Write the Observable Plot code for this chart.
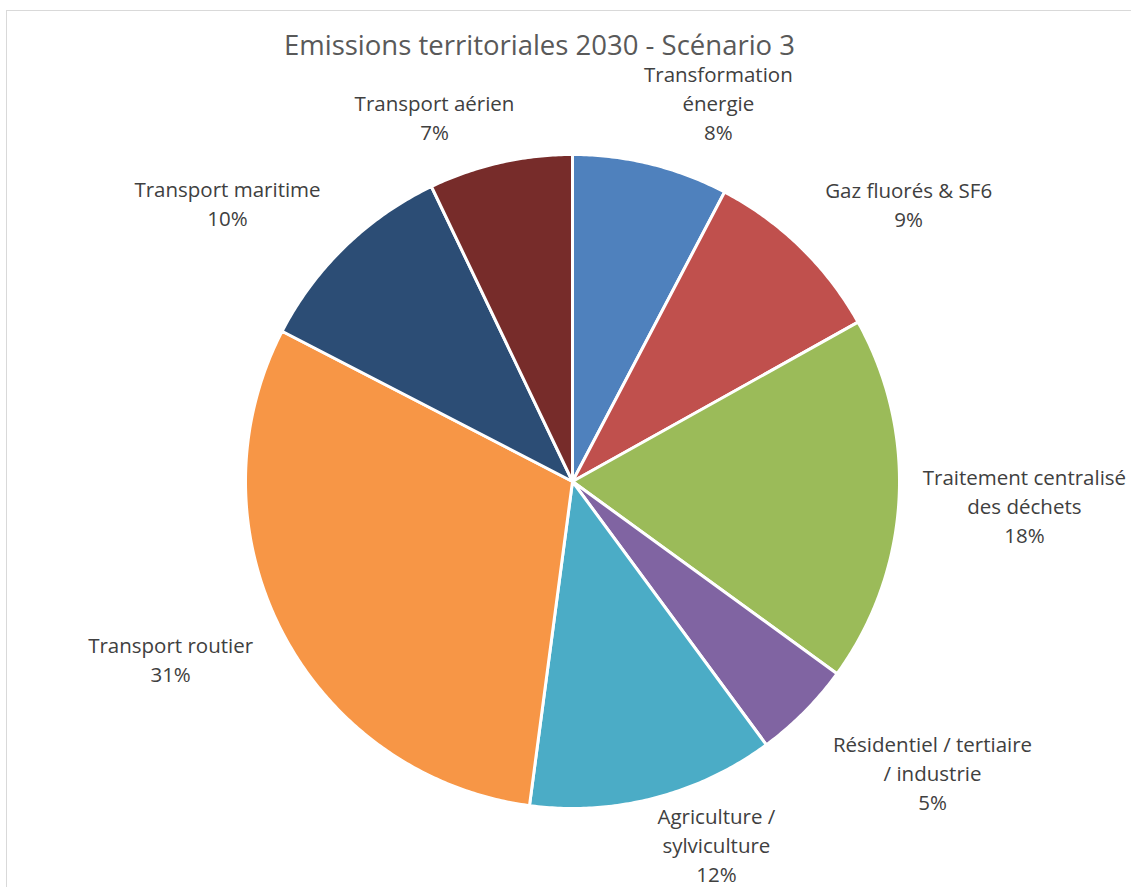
<!DOCTYPE html>
<html>
<head>
<meta charset="utf-8">
<script src="https://cdn.jsdelivr.net/npm/d3@7"></script>
<script src="https://cdn.jsdelivr.net/npm/@observablehq/plot@0.6"></script>
<style>
  html, body { margin: 0; padding: 0; background: #fff; }
  #wrap { position: relative; width: 1131px; height: 887px; overflow: hidden; }
  #frame { position: absolute; left: 6px; top: 10px; width: 1200px; height: 1000px; border: 1.5px solid #d9d9d9; box-sizing: border-box; }
  #title { position: absolute; left: 0; top: 31px; width: 1079px; text-align: center; font-family: "Open Sans", sans-serif; font-size: 27.5px; line-height: 28px; color: #595959; }
  #chart { position: absolute; left: 0; top: 0; }
</style>
</head>
<body>
<div id="wrap">
  <div id="frame"></div>
  <div id="chart"></div>
  <div id="title">Emissions territoriales 2030 - Scénario 3</div>
</div>
<script>
// Data (clockwise from 12 o'clock)
const categories = [
  "Transformation énergie",
  "Gaz fluorés & SF6",
  "Traitement centralisé des déchets",
  "Résidentiel / tertiaire / industrie",
  "Agriculture / sylviculture",
  "Transport routier",
  "Transport maritime",
  "Transport aérien"
];
const shares = [7.7, 9.2, 18.1, 4.9, 12.2, 30.5, 10.3, 7.1];
const percentLabels = ["8%", "9%", "18%", "5%", "12%", "31%", "10%", "7%"];
const labelLines = [
  "Transformation\nénergie",
  "Gaz fluorés & SF6",
  "Traitement centralisé\ndes déchets",
  "Résidentiel / tertiaire\n/ industrie",
  "Agriculture /\nsylviculture",
  "Transport routier",
  "Transport maritime",
  "Transport aérien"
];
const colors = ["#4F81BD", "#C0504D", "#9BBB59", "#8064A2", "#4BACC6", "#F79646", "#2C4D75", "#772C2A"];

// Layout config: label block centers in unit-radius coordinates
const labelAnchors = [
  [0.446, 1.160],
  [1.028, 0.851],
  [1.382, -0.072],
  [1.101, -0.889],
  [0.440, -1.107],
  [-1.229, -0.540],
  [-1.055, 0.855],
  [-0.422, 1.118]
];

const W = 1131, H = 887, cx = 572, cy = 481, R = 327;

// Build slice polygons from data
const total = d3.sum(shares);
const slicePts = [];
let acc = 0;
categories.forEach((c, i) => {
  const a0 = acc / total * 2 * Math.PI;
  acc += shares[i];
  const a1 = acc / total * 2 * Math.PI;
  slicePts.push({category: c, x: 0, y: 0});
  const n = Math.max(2, Math.ceil((a1 - a0) / (Math.PI / 360)));
  for (let k = 0; k <= n; k++) {
    const a = a0 + (a1 - a0) * k / n;
    slicePts.push({category: c, x: Math.sin(a), y: Math.cos(a)});
  }
  slicePts.push({category: c, x: 0, y: 0});
});

const labels = categories.map((c, i) => ({
  category: c,
  x: labelAnchors[i][0],
  y: labelAnchors[i][1],
  text: labelLines[i] + "\n" + percentLabels[i]
}));

const chart = Plot.plot({
  width: W,
  height: H,
  margin: 0,
  x: {domain: [-cx / R, (W - cx) / R], axis: null},
  y: {domain: [-(H - cy) / R, cy / R], axis: null},
  color: {domain: categories, range: colors},
  style: {background: "transparent", fontFamily: "Open Sans, sans-serif"},
  marks: [
    Plot.line(slicePts, {
      x: "x", y: "y", z: "category",
      fill: "category",
      stroke: "white",
      strokeWidth: 3,
      strokeLinejoin: "round",
      curve: "linear"
    }),
    Plot.text(labels, {
      x: "x", y: "y",
      text: "text",
      fill: "#404040",
      fontSize: 20.5,
      lineHeight: 1.415,
      textAnchor: "middle"
    })
  ]
});
document.getElementById("chart").appendChild(chart);
</script>
</body>
</html>
